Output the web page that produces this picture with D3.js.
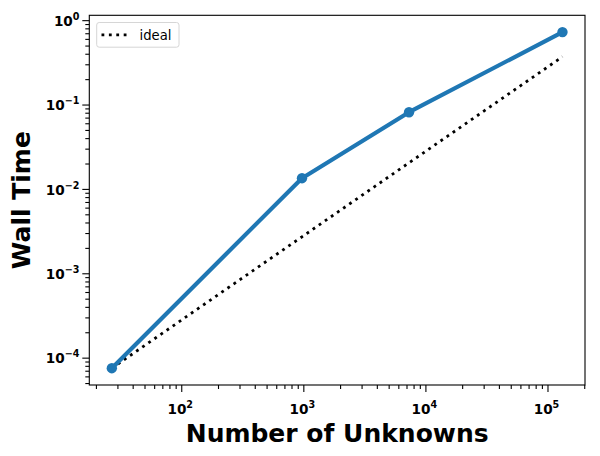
<!DOCTYPE html>
<html>
<head>
<meta charset="utf-8">
<script src="https://cdn.jsdelivr.net/npm/d3@7"></script>
<style>
  body { margin: 0; background: #fff; }
  svg { display: block; font-family: "DejaVu Sans", sans-serif; }
</style>
</head>
<body>
<svg id="chart" width="600" height="456"></svg>
<script>
// ---- data ----
const unknowns = [27, 975, 7340, 132650];
const wallTime = [7.5e-5, 0.0134, 0.0811, 0.722];
const idealTime = [7.5e-5, 0.002708, 0.02039, 0.3685];
const xMajorTicks = [1e2, 1e3, 1e4, 1e5];
const yMajorTicks = [1e-4, 1e-3, 1e-2, 1e-1, 1e0];
const xLabel = "Number of Unknowns";
const yLabel = "Wall Time";
const legendLabel = "ideal";

// ---- layout ----
const svg = d3.select("#chart");
const L = 89.3, R = 585, T = 15.3, B = 385;

function logDomain(vals) {
  const lo = Math.log10(d3.min(vals)), hi = Math.log10(d3.max(vals));
  const m = (hi - lo) * 0.05;
  return [Math.pow(10, lo - m), Math.pow(10, hi + m)];
}
const x = d3.scaleLog().domain(logDomain(unknowns)).range([L, R]);
const y = d3.scaleLog().domain(logDomain(wallTime.concat(idealTime))).range([B, T]);

function minorTicks(scale) {
  const [a, b] = scale.domain();
  const out = [];
  for (let e = Math.floor(Math.log10(a)) - 1; e <= Math.ceil(Math.log10(b)); e++) {
    for (let k = 2; k <= 9; k++) {
      const v = k * Math.pow(10, e);
      if (v >= a && v <= b) out.push(v);
    }
  }
  return out;
}

const blue = "#1f77b4";

// ideal dotted line
const line = d3.line().x((d, i) => x(unknowns[i])).y(d => y(d));
svg.append("path").datum(idealTime)
  .attr("d", line)
  .attr("fill", "none").attr("stroke", "#000")
  .attr("stroke-width", 2.8).attr("stroke-dasharray", "2.8,4.6");

// measured line
svg.append("path").datum(wallTime)
  .attr("d", line)
  .attr("fill", "none").attr("stroke", blue)
  .attr("stroke-width", 4.2).attr("stroke-linejoin", "round").attr("stroke-linecap", "butt");
svg.selectAll("circle.pt").data(wallTime).enter().append("circle")
  .attr("class", "pt")
  .attr("cx", (d, i) => x(unknowns[i])).attr("cy", d => y(d))
  .attr("r", 5.2).attr("fill", blue);

// frame
svg.append("rect").attr("x", L).attr("y", T).attr("width", R - L).attr("height", B - T)
  .attr("fill", "none").attr("stroke", "#000").attr("stroke-width", 1.1);

// axes
function supLabel(sel, v) {
  const e = Math.round(Math.log10(v));
  const t = d3.select(sel);
  t.text(null);
  t.append("tspan").text("10");
  t.append("tspan").attr("dy", -6).attr("font-size", "9.6px")
    .text(e < 0 ? "\u2212" + (-e) : String(e));
}

const gx = svg.append("g").attr("transform", `translate(0,${B})`);
gx.call(d3.axisBottom(x).tickValues(minorTicks(x)).tickSize(4).tickFormat(""));
gx.call(g => g.append("g").call(d3.axisBottom(x).tickValues(xMajorTicks).tickSize(7).tickFormat("")));
gx.selectAll(".domain").remove();
gx.selectAll("line").attr("stroke", "#000").attr("stroke-width", 1.1);

svg.append("g").selectAll("text").data(xMajorTicks).enter().append("text")
  .attr("x", d => x(d) - 1).attr("y", 414)
  .attr("text-anchor", "middle")
  .attr("font-size", "13.6px").attr("font-weight", "bold")
  .each(function(d) { supLabel(this, d); });

const gy = svg.append("g").attr("transform", `translate(${L},0)`);
gy.call(d3.axisLeft(y).tickValues(minorTicks(y)).tickSize(4).tickFormat(""));
gy.call(g => g.append("g").call(d3.axisLeft(y).tickValues(yMajorTicks).tickSize(7).tickFormat("")));
gy.selectAll(".domain").remove();
gy.selectAll("line").attr("stroke", "#000").attr("stroke-width", 1.1);

svg.append("g").selectAll("text").data(yMajorTicks).enter().append("text")
  .attr("x", 79.5).attr("y", d => y(d) + 5.8)
  .attr("text-anchor", "end")
  .attr("font-size", "13.6px").attr("font-weight", "bold")
  .each(function(d) { supLabel(this, d); });

// axis titles
svg.append("text").attr("x", (L + R) / 2).attr("y", 442)
  .attr("text-anchor", "middle").attr("font-size", "25px").attr("font-weight", "bold")
  .text(xLabel);
svg.append("text")
  .attr("transform", `translate(29.5,${(T + B) / 2}) rotate(-90)`)
  .attr("text-anchor", "middle").attr("font-size", "25px").attr("font-weight", "bold")
  .text(yLabel);

// legend
const lg = svg.append("g");
lg.append("rect").attr("x", 96.7).attr("y", 22.5).attr("width", 82.3).attr("height", 24.7)
  .attr("rx", 2.5).attr("fill", "#fff").attr("fill-opacity", 0.8)
  .attr("stroke", "#d6d6d6").attr("stroke-width", 1);
lg.append("line").attr("x1", 101.5).attr("x2", 129.3).attr("y1", 34.8).attr("y2", 34.8)
  .attr("stroke", "#000").attr("stroke-width", 2.8).attr("stroke-dasharray", "2.8,4.6");
lg.append("text").attr("x", 139.5).attr("y", 39.6)
  .attr("font-size", "13.2px").text(legendLabel);
</script>
</body>
</html>
